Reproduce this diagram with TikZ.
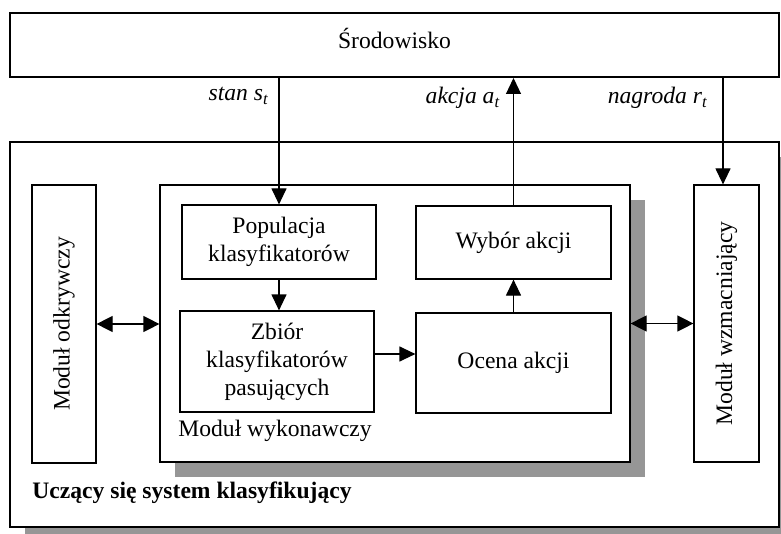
\documentclass[tikz,border=0pt]{standalone}
\usepackage{fontspec}
\setmainfont{Liberation Serif}
\definecolor{shadecol}{RGB}{150,150,150}
\usetikzlibrary{arrows.meta, positioning, shadows}

\begin{document}
\begin{tikzpicture}[x=0.5pt, y=-0.5pt,
  font=\fontsize{11.8}{14}\selectfont,
  box/.style={draw, line width=0.6pt, fill=white, inner sep=0pt, align=center},
  bigbox/.style={draw, line width=1pt, fill=white, inner sep=0pt},
  shadowed/.style={drop shadow={shadow xshift=7.5pt, shadow yshift=-7.5pt,
                                fill=shadecol, opacity=1}},
  flow/.style={line width=0.6pt, -{Triangle[length=8pt, width=7.5pt]}},
  twoway/.style={line width=0.6pt,
    {Triangle[length=8pt, width=8pt]}-{Triangle[length=8pt, width=8pt]}},
  lbl/.style={font=\fontsize{11.8}{14}\selectfont\itshape, inner sep=0pt}]

  \useasboundingbox (0,0) rectangle (781,534);

  % Environment
  \node[bigbox, minimum width=384.5pt, minimum height=32pt] (env) at (394.5,45) {};
  \node (envtxt) at (394.5,38) {Środowisko};

  % Learning classifier system (outer frame)
  \node[bigbox, shadowed, minimum width=384.5pt, minimum height=192.5pt]
    (sys) at (394.5,334.5) {};
  \node[anchor=west, inner sep=0pt, font=\fontsize{11.8}{14}\selectfont\bfseries]
    (systxt) at (32,493) {Uczący się system klasyfikujący};

  % Modules
  \node[box, shadowed, minimum width=235pt, minimum height=138.5pt] (wyk) at (395,323.5) {};
  \node[anchor=west, inner sep=0pt] (wyktxt) at (178,431) {Moduł wykonawczy};
  \node[box, minimum width=32pt, minimum height=139pt] (odk) at (64,324) {};
  \node[rotate=90] (odktxt) at (odk) {Moduł odkrywczy};
  \node[box, minimum width=32.5pt, minimum height=138.5pt] (wzm) at (726.5,323.5) {};
  \node[rotate=90] (wzmtxt) at (wzm) {Moduł wzmacniający};

  % Inside the performance module
  \node[box, minimum width=97pt, minimum height=37pt] (pop) at (279,242)
    {Populacja\\klasyfikatorów};
  \node[box, minimum width=97pt, minimum height=50.5pt] (zb) at (277,361.5)
    {Zbiór\\klasyfikatorów\\pasujących};
  \node[box, minimum width=97.5pt, minimum height=36.5pt] (wyb) at (513.5,242.5)
    {Wybór akcji};
  \node[box, minimum width=97.5pt, minimum height=50pt] (oc) at (513.5,363)
    {Ocena akcji};

  % Signals between environment and system
  \coordinate (stantop) at (pop.north |- env.south);
  \draw[flow] (stantop) -- (pop.north);
  \node[lbl, anchor=north east] (stanlbl) at ([xshift=-5pt, yshift=-4.5pt]stantop)
    {stan s\textsubscript{t}};

  \coordinate (akcjatop) at (wyb.north |- env.south);
  \draw[flow] (wyb.north) -- (akcjatop);
  \node[lbl, anchor=north east] (akcjalbl) at ([xshift=-6.5pt, yshift=-4.5pt]akcjatop)
    {akcja a\textsubscript{t}};

  \path (wzm.north) ++(-1.75pt,0) coordinate (nagrx);
  \coordinate (nagrtop) at (nagrx |- env.south);
  \draw[flow] (nagrtop) -- (nagrx);
  \node[lbl, anchor=north east] (nagrlbl) at ([xshift=-7.5pt, yshift=-4.5pt]nagrtop)
    {nagroda r\textsubscript{t}};

  % Internal flow
  \draw[flow] (pop.south) -- (pop.south |- zb.north);
  \coordinate (zbout) at ([yshift=3.75pt]zb.east);
  \draw[flow] (zbout) -- (zbout -| oc.west);
  \draw[flow] (oc.north) -- (wyb.south);

  % Module exchanges
  \draw[twoway] (odk.east) -- (odk.east -| wyk.west);
  \draw[twoway] (wyk.east |- wzm.west) -- (wzm.west);

\end{tikzpicture}
\end{document}
